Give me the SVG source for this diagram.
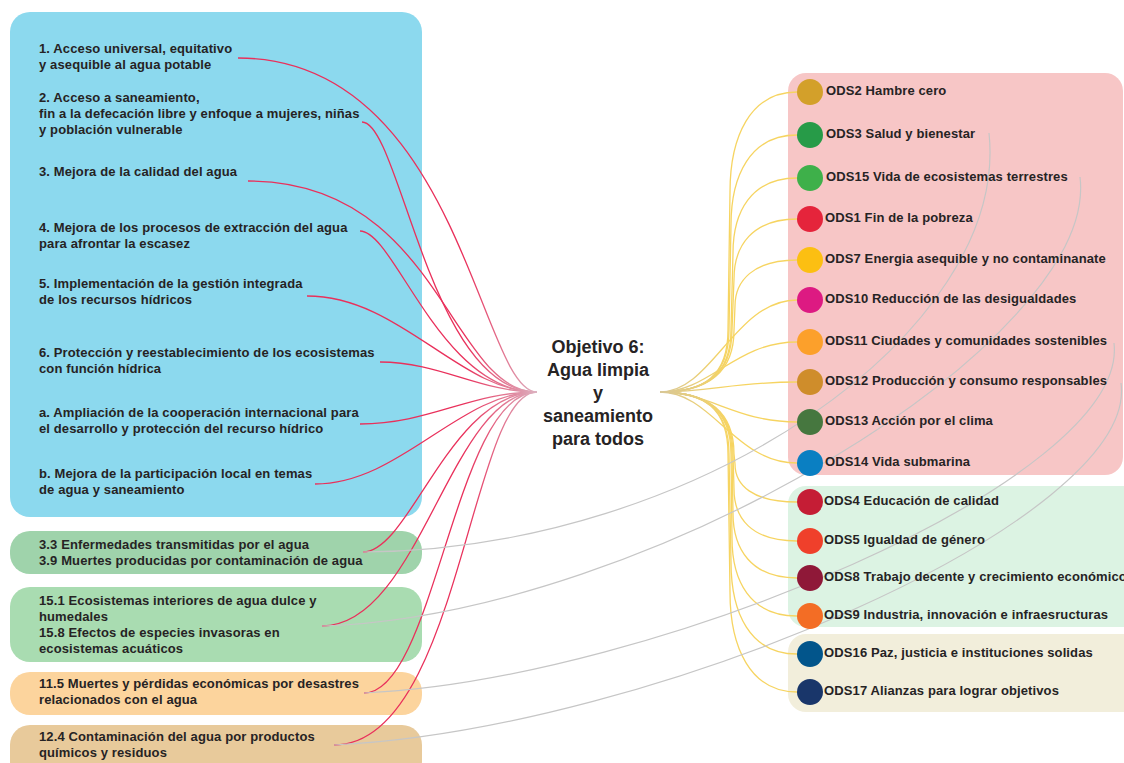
<svg xmlns="http://www.w3.org/2000/svg" width="1124" height="763" viewBox="0 0 1124 763">
<style>
.t{font-family:"Liberation Sans",Arial,sans-serif;font-weight:bold;font-size:13px;fill:#262324;letter-spacing:0.12px}
.c{font-family:"Liberation Sans",Arial,sans-serif;font-weight:bold;font-size:18px;fill:#262324;text-anchor:middle}
.red{fill:none;stroke:url(#gr);stroke-width:1.3}
.yel{fill:none;stroke:url(#gy);stroke-width:1.3}
.gry{fill:none;stroke:#c6c6c6;stroke-width:1.2}
</style>
<defs>
<linearGradient id="gr" gradientUnits="userSpaceOnUse" x1="465" y1="0" x2="537" y2="0">
<stop offset="0" stop-color="#e9305b"/><stop offset="1" stop-color="#dcb3c1"/>
</linearGradient>
<linearGradient id="gy" gradientUnits="userSpaceOnUse" x1="660" y1="0" x2="728" y2="0">
<stop offset="0" stop-color="#d8c797"/><stop offset="1" stop-color="#f6d461"/>
</linearGradient>
</defs>
<rect width="1124" height="763" fill="#ffffff"/>
<g id="containers">
<rect x="10" y="12" width="412" height="505" rx="20" fill="#8cd9ee"/>
<rect x="10" y="531" width="412" height="43" rx="20" fill="#9fd3ab"/>
<rect x="10" y="587" width="412" height="75" rx="20" fill="#a9dcb1"/>
<rect x="10" y="672" width="412" height="43" rx="20" fill="#fcd49d"/>
<rect x="10" y="725" width="412" height="56" rx="20" fill="#e8ca9b"/>
<rect x="788" y="73" width="335" height="402" rx="18" fill="#f7c6c6"/>
<rect x="788" y="486" width="360" height="141" rx="18" fill="#dcf3e3"/>
<rect x="788" y="634" width="360" height="78" rx="18" fill="#f2eedb"/>
</g>
<g id="connectors">
<path class="red" d="M238,58 C460,58 480,392 537,392"/>
<path class="red" d="M362,122 C400,122 430,392 537,392"/>
<path class="red" d="M248,181 C440,181 450,392 537,392"/>
<path class="red" d="M360,231 C395,231 440,392 537,392"/>
<path class="red" d="M307,296 C400,296 460,392 537,392"/>
<path class="red" d="M380,362 C440,362 480,392 537,392"/>
<path class="red" d="M360,424 C430,424 470,392 537,392"/>
<path class="red" d="M315,484 C400,484 460,392 537,392"/>
<path class="red" d="M363,552 C410,552 450,392 537,392"/>
<path class="red" d="M322,626 C420,626 450,392 537,392"/>
<path class="red" d="M364,693 C435,693 455,392 537,392"/>
<path class="red" d="M334,745 C460,745 470,392 537,392"/>
<path class="yel" d="M660,392 C705,392 728,375 728,330 L730,192 C730,137 750,92 797,92"/>
<path class="yel" d="M660,392 C705,392 729,375 729,330 L731,225 C731,176 750,135 797,135"/>
<path class="yel" d="M660,392 C705,392 731,375 731,330 L733,253 C733,212 751,178 797,178"/>
<path class="yel" d="M660,392 C705,392 732,375 732,330 L734,279 C734,246 752,219 797,219"/>
<path class="yel" d="M660,392 C705,392 734,375 734,330 L735,306 C735,281 753,260 797,260"/>
<path class="yel" d="M660,392 C712,392 735,300 797,300"/>
<path class="yel" d="M660,392 C710,392 735,342 797,342"/>
<path class="yel" d="M660,392 C710,392 735,382 797,382"/>
<path class="yel" d="M660,392 C710,392 735,422 797,422"/>
<path class="yel" d="M660,392 C712,392 735,463 797,463"/>
<path class="yel" d="M660,392 C705,392 734,409 734,454 L735,464 C735,485 752,502 797,502"/>
<path class="yel" d="M660,392 C705,392 733,409 733,454 L734,489 C734,518 751,541 797,541"/>
<path class="yel" d="M660,392 C705,392 732,409 732,454 L733,513 C733,549 751,578 797,578"/>
<path class="yel" d="M660,392 C705,392 731,409 731,454 L732,538 C732,581 750,616 797,616"/>
<path class="yel" d="M660,392 C705,392 729,409 729,454 L731,562 C731,613 750,654 797,654"/>
<path class="yel" d="M660,392 C705,392 728,409 728,454 L730,592 C730,647 750,692 797,692"/>
<path class="gry" d="M363,552 C700,550 1010,330 989,133"/>
<path class="gry" d="M322,626 C650,615 1100,340 1080,177"/>
<path class="gry" d="M364,693 C650,680 1130,480 1114,343"/>
<path class="gry" d="M334,745 C650,730 1140,520 1121,383"/>
</g>
<g id="center"><text class="c"><tspan x="598" y="353">Objetivo 6:</tspan><tspan x="598" y="376">Agua limpia</tspan><tspan x="598" y="399">y</tspan><tspan x="598" y="422">saneamiento</tspan><tspan x="598" y="445">para todos</tspan></text></g>
<g id="m1"><text class="t"><tspan x="39" y="53">1. Acceso universal, equitativo</tspan><tspan x="39" y="69">y asequible al agua potable</tspan></text></g>
<g id="m2"><text class="t"><tspan x="39" y="102">2. Acceso a saneamiento,</tspan><tspan x="39" y="118">fin a la defecación libre y enfoque a mujeres, niñas</tspan><tspan x="39" y="134">y población vulnerable</tspan></text></g>
<g id="m3"><text class="t"><tspan x="39" y="176">3. Mejora de la calidad del agua</tspan></text></g>
<g id="m4"><text class="t"><tspan x="39" y="232">4. Mejora de los procesos de extracción del agua</tspan><tspan x="39" y="248">para afrontar la escasez</tspan></text></g>
<g id="m5"><text class="t"><tspan x="39" y="288">5. Implementación de la gestión integrada</tspan><tspan x="39" y="304">de los recursos hídricos</tspan></text></g>
<g id="m6"><text class="t"><tspan x="39" y="357">6. Protección y reestablecimiento de los ecosistemas</tspan><tspan x="39" y="373">con función hídrica</tspan></text></g>
<g id="ma"><text class="t"><tspan x="39" y="417">a. Ampliación de la cooperación internacional para</tspan><tspan x="39" y="433">el desarrollo y protección del recurso hídrico</tspan></text></g>
<g id="mb"><text class="t"><tspan x="39" y="478">b. Mejora de la participación local en temas</tspan><tspan x="39" y="494">de agua y saneamiento</tspan></text></g>
<g id="t33"><text class="t"><tspan x="39" y="549">3.3 Enfermedades transmitidas por el agua</tspan><tspan x="39" y="565">3.9 Muertes producidas por contaminación de agua</tspan></text></g>
<g id="t151"><text class="t"><tspan x="39" y="605">15.1 Ecosistemas interiores de agua dulce y</tspan><tspan x="39" y="621">humedales</tspan><tspan x="39" y="637">15.8 Efectos de especies invasoras en</tspan><tspan x="39" y="653">ecosistemas acuáticos</tspan></text></g>
<g id="t115"><text class="t"><tspan x="39" y="688">11.5 Muertes y pérdidas económicas por desastres</tspan><tspan x="39" y="704">relacionados con el agua</tspan></text></g>
<g id="t124"><text class="t"><tspan x="39" y="741">12.4 Contaminación del agua por productos</tspan><tspan x="39" y="757">químicos y residuos</tspan></text></g>
<g id="ods2"><circle cx="810" cy="92" r="13" fill="#d3a02a"/><text class="t" x="826" y="95">ODS2 Hambre cero</text></g>
<g id="ods3"><circle cx="810" cy="135" r="13" fill="#279b48"/><text class="t" x="826" y="138">ODS3 Salud y bienestar</text></g>
<g id="ods15"><circle cx="810" cy="178" r="13" fill="#3eb04a"/><text class="t" x="826" y="181">ODS15 Vida de ecosistemas terrestres</text></g>
<g id="ods1"><circle cx="810" cy="219" r="13" fill="#e5243b"/><text class="t" x="825" y="222">ODS1 Fin de la pobreza</text></g>
<g id="ods7"><circle cx="810" cy="260" r="13" fill="#fcbf12"/><text class="t" x="825" y="263">ODS7 Energia asequible y no contaminanate</text></g>
<g id="ods10"><circle cx="810" cy="300" r="13" fill="#dd1a82"/><text class="t" x="825" y="303">ODS10 Reducción de las desigualdades</text></g>
<g id="ods11"><circle cx="810" cy="342" r="13" fill="#fca02b"/><text class="t" x="825" y="345">ODS11 Ciudades y comunidades sostenibles</text></g>
<g id="ods12"><circle cx="810" cy="382" r="13" fill="#cf8d2b"/><text class="t" x="825" y="385">ODS12 Producción y consumo responsables</text></g>
<g id="ods13"><circle cx="810" cy="422" r="13" fill="#46773f"/><text class="t" x="825" y="425">ODS13 Acción por el clima</text></g>
<g id="ods14"><circle cx="810" cy="463" r="13" fill="#0a7fc2"/><text class="t" x="825" y="466">ODS14 Vida submarina</text></g>
<g id="ods4"><circle cx="810" cy="502" r="13" fill="#c51d35"/><text class="t" x="824" y="505">ODS4 Educación de calidad</text></g>
<g id="ods5"><circle cx="810" cy="541" r="13" fill="#ef402b"/><text class="t" x="824" y="544">ODS5 Igualdad de género</text></g>
<g id="ods8"><circle cx="810" cy="578" r="13" fill="#8f1838"/><text class="t" x="824" y="581">ODS8 Trabajo decente y crecimiento económico</text></g>
<g id="ods9"><circle cx="810" cy="616" r="13" fill="#f36d25"/><text class="t" x="824" y="619">ODS9 Industria, innovación e infraesructuras</text></g>
<g id="ods16"><circle cx="810" cy="654" r="13" fill="#02558b"/><text class="t" x="824" y="657">ODS16 Paz, justicia e instituciones solidas</text></g>
<g id="ods17"><circle cx="810" cy="692" r="13" fill="#19366a"/><text class="t" x="824" y="695">ODS17 Alianzas para lograr objetivos</text></g>
</svg>
